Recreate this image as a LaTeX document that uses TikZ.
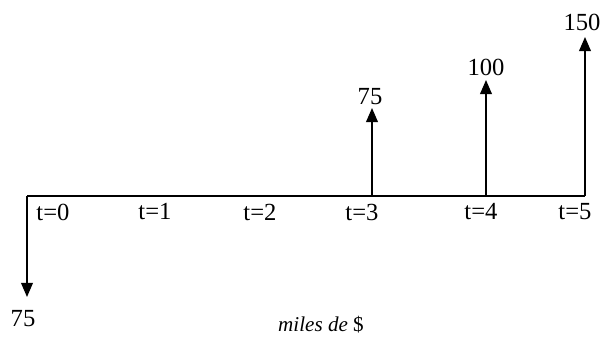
\documentclass[tikz,border=0pt]{standalone}
\usepackage{fontspec}
\setmainfont{Liberation Serif}
\usetikzlibrary{arrows.meta}

\begin{document}
\begin{tikzpicture}[x=0.03cm, y=0.03cm,
    flow/.style={-{Triangle[width=10pt,length=12pt]}, line width=1.3pt},
    lbl/.style={font=\fontsize{21}{24}\selectfont, inner sep=0pt}]
    \useasboundingbox (0,0) rectangle (602,338);

    % Time axis
    \coordinate (A0) at (27,142);
    \coordinate (A3) at (372,142);
    \coordinate (A4) at (486,142);
    \coordinate (A5) at (585,142);
    \draw[line width=1.8pt] (A0) -- (A5);

    % Period labels
    \foreach \i/\x in {0/53,1/155,2/260,3/362,4/481,5/575}
        \node[lbl] (t\i) at (\x,126) {t=\i};

    % Outflow at t=0
    \coordinate (T0) at (27,41);
    \draw[flow] (A0) -- (T0);
    \node[lbl] (c0) at (23,19) {75};

    % Inflows
    \coordinate (T3) at (372,230);
    \coordinate (T4) at (486,258);
    \coordinate (T5) at (585,301);
    \draw[flow] (A3) -- (T3);
    \draw[flow] (A4) -- (T4);
    \draw[flow] (A5) -- (T5);
    \node[lbl] (c3) at (370,241) {75};
    \node[lbl] (c4) at (486,271) {100};
    \node[lbl] (c5) at (582,316) {150};

    % Units
    \node[lbl, font=\fontsize{18}{21}\selectfont] (unit) at (321,13) {\textit{miles de} \$};
\end{tikzpicture}
\end{document}
